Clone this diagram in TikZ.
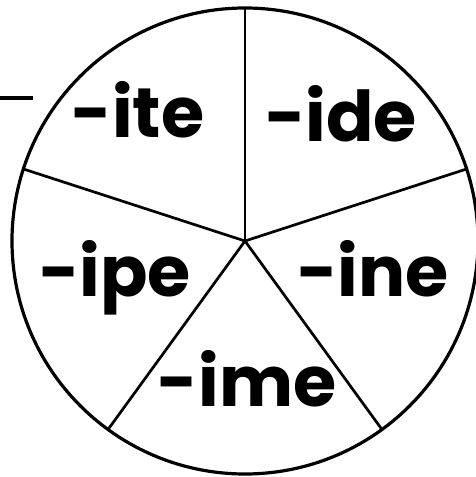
\documentclass[tikz,border=0pt]{standalone}
\usepackage{fontspec}
\newfontfamily\wheelfont{Poppins}
\usepackage{tikz}

\begin{document}
\begin{tikzpicture}[x=1pt,y=1pt,
  ending/.style={anchor=base,inner sep=0pt,font=\wheelfont\bfseries\fontsize{70}{70}\selectfont}]
\useasboundingbox (0,0) rectangle (475,477);

% wheel
\coordinate (o) at (245,236);
\draw[line width=3.2pt] (o) circle (233);
\foreach \a in {90,162,234,306,18}
  \draw[line width=2.7pt] (o) -- ++(\a:233);

% endings
\node[ending] (ite) at (138,339) {-ite};
\node[ending] (ide) at (341,335) {-ide};
\node[ending] (ipe) at (115,180) {-ipe};
\node[ending] (ine) at (373,180) {-ine};
\node[ending] (ime) at (247,70) {-ime};

% dash at left edge
\draw[line width=4pt] (0,379) -- (33,379);
\end{tikzpicture}
\end{document}
